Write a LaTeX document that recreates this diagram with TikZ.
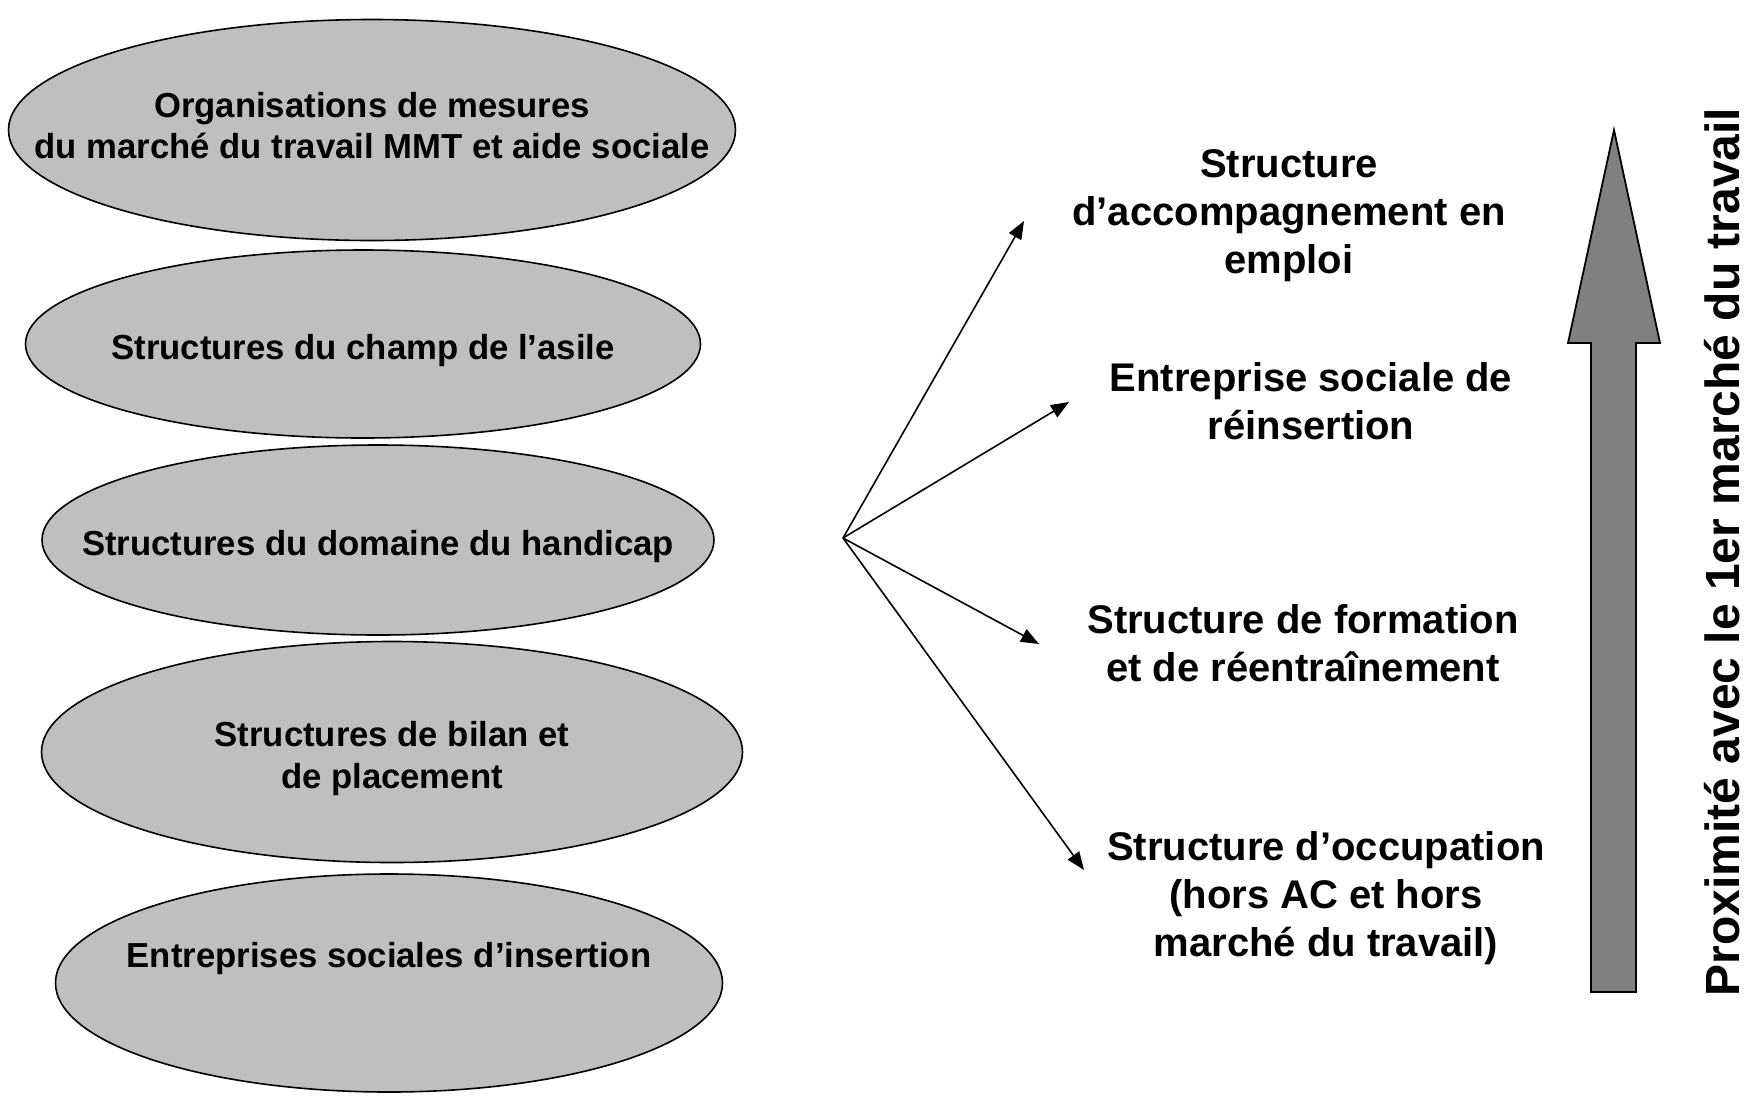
\documentclass[tikz,border=0pt]{standalone}
\usepackage{fontspec}
\setmainfont{Liberation Sans}
\usetikzlibrary{arrows.meta}
\usetikzlibrary{shapes.geometric}

\begin{document}
\begin{tikzpicture}[x=1pt, y=-1pt,
    oval/.style={ellipse, draw, line width=1.6pt, fill=black!25, inner sep=0pt},
    ovaltext/.style={align=center, font=\fontsize{34.7}{41.5}\selectfont\bfseries},
    rtext/.style={align=center, font=\fontsize{40}{48}\selectfont\bfseries},
    fleche/.style={line width=1.6pt, -{Triangle[length=18pt, width=14pt]}}]
  \useasboundingbox (0,0) rectangle (1757,1096);
  % ellipses on the left
  \node [oval, minimum width=727pt, minimum height=221pt,
    label={[ovaltext, yshift=4.5pt]center:Organisations de mesures\\du marché du travail MMT et aide sociale}] (mmt) at (372,130) {};
  \node [oval, minimum width=675pt, minimum height=188pt,
    label={[ovaltext, yshift=-7pt]center:Structures du champ de l’asile}] (asile) at (363,344) {};
  \node [oval, minimum width=672pt, minimum height=190pt,
    label={[ovaltext, yshift=-7pt]center:Structures du domaine du handicap}] (handicap) at (378,540) {};
  \node [oval, minimum width=701pt, minimum height=221pt,
    label={[ovaltext, yshift=-6.5pt]center:Structures de bilan et\\de placement}] (bilan) at (392,752) {};
  \node [oval, minimum width=667pt, minimum height=218pt,
    label={[ovaltext, yshift=24.5pt]center:Entreprises sociales d’insertion}] (insertion) at (389,983) {};
  % texts on the right
  \node [rtext] (accomp) at (1289,216) {Structure\\d’accompagnement en\\emploi};
  \node [rtext] (reins) at (1311,401) {Entreprise sociale de\\réinsertion};
  \node [rtext] (formation) at (1303,643) {Structure de formation\\et de réentraînement};
  \node [rtext] (occup) at (1326,898) {Structure d’occupation\\(hors AC et hors\\marché du travail)};
  % fan of arrows
  \coordinate (hub) at (843,538);
  \coordinate (t1) at (1024,221);
  \coordinate (t2) at (1069,402);
  \coordinate (t3) at (1039,644);
  \coordinate (t4) at (1084,870);
  \foreach \t in {t1,t2,t3,t4}
    \draw [fleche] (hub) -- (\t);
  % big arrow
  \filldraw [fill=black!50, line width=1.8pt] (1591,992) -- (1591,343) -- (1568,343) -- (1614,130)
    -- (1660,343) -- (1636,343) -- (1636,992) -- cycle;
  \node [rotate=90, font=\fontsize{48}{56}\selectfont\bfseries] (proxi) at (1722,552) {Proximité avec le 1er marché du travail};
\end{tikzpicture}
\end{document}
